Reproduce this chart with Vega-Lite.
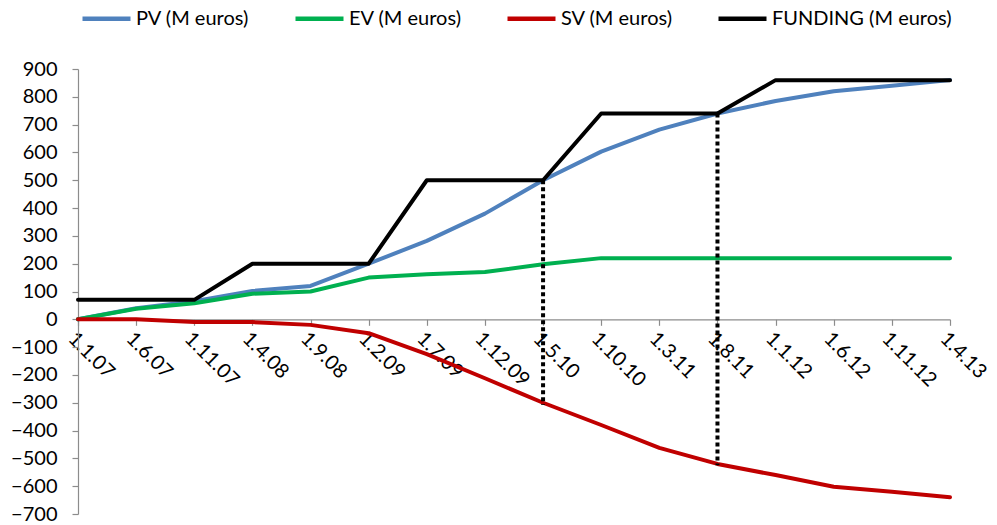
{
  "$schema": "https://vega.github.io/schema/vega-lite/v6.json",
  "autosize": {"type": "none"},
  "padding": {"left": 78, "top": 69, "right": 47, "bottom": 11},
  "width": 872,
  "height": 445,
  "background": "white",
  "config": {
    "view": {"stroke": null},
    "font": "Lato",
    "axis": {"labelFont": "Lato", "labelFontSize": 20, "labelColor": "#000000", "grid": false, "domainColor": "#8c8c8c", "tickColor": "#8c8c8c", "domainWidth": 1.2, "tickWidth": 1.2, "title": null, "labelOverlap": false}
  },
  "datasets": {
    "series": [
      {"date": "1.1.07", "series": "PV (M euros)", "value": 0},
      {"date": "1.6.07", "series": "PV (M euros)", "value": 40},
      {"date": "1.11.07", "series": "PV (M euros)", "value": 65},
      {"date": "1.4.08", "series": "PV (M euros)", "value": 102},
      {"date": "1.9.08", "series": "PV (M euros)", "value": 120},
      {"date": "1.2.09", "series": "PV (M euros)", "value": 200},
      {"date": "1.7.09", "series": "PV (M euros)", "value": 282},
      {"date": "1.12.09", "series": "PV (M euros)", "value": 380},
      {"date": "1.5.10", "series": "PV (M euros)", "value": 500},
      {"date": "1.10.10", "series": "PV (M euros)", "value": 603},
      {"date": "1.3.11", "series": "PV (M euros)", "value": 682},
      {"date": "1.8.11", "series": "PV (M euros)", "value": 740},
      {"date": "1.1.12", "series": "PV (M euros)", "value": 785},
      {"date": "1.6.12", "series": "PV (M euros)", "value": 820},
      {"date": "1.11.12", "series": "PV (M euros)", "value": 840},
      {"date": "1.4.13", "series": "PV (M euros)", "value": 860},
      {"date": "1.1.07", "series": "EV (M euros)", "value": 0},
      {"date": "1.6.07", "series": "EV (M euros)", "value": 38},
      {"date": "1.11.07", "series": "EV (M euros)", "value": 58},
      {"date": "1.4.08", "series": "EV (M euros)", "value": 92},
      {"date": "1.9.08", "series": "EV (M euros)", "value": 100},
      {"date": "1.2.09", "series": "EV (M euros)", "value": 150},
      {"date": "1.7.09", "series": "EV (M euros)", "value": 162},
      {"date": "1.12.09", "series": "EV (M euros)", "value": 170},
      {"date": "1.5.10", "series": "EV (M euros)", "value": 198},
      {"date": "1.10.10", "series": "EV (M euros)", "value": 220},
      {"date": "1.3.11", "series": "EV (M euros)", "value": 220},
      {"date": "1.8.11", "series": "EV (M euros)", "value": 220},
      {"date": "1.1.12", "series": "EV (M euros)", "value": 220},
      {"date": "1.6.12", "series": "EV (M euros)", "value": 220},
      {"date": "1.11.12", "series": "EV (M euros)", "value": 220},
      {"date": "1.4.13", "series": "EV (M euros)", "value": 220},
      {"date": "1.1.07", "series": "SV (M euros)", "value": 0},
      {"date": "1.6.07", "series": "SV (M euros)", "value": 0},
      {"date": "1.11.07", "series": "SV (M euros)", "value": -10},
      {"date": "1.4.08", "series": "SV (M euros)", "value": -10},
      {"date": "1.9.08", "series": "SV (M euros)", "value": -20},
      {"date": "1.2.09", "series": "SV (M euros)", "value": -50},
      {"date": "1.7.09", "series": "SV (M euros)", "value": -125},
      {"date": "1.12.09", "series": "SV (M euros)", "value": -212},
      {"date": "1.5.10", "series": "SV (M euros)", "value": -300},
      {"date": "1.10.10", "series": "SV (M euros)", "value": -380},
      {"date": "1.3.11", "series": "SV (M euros)", "value": -462},
      {"date": "1.8.11", "series": "SV (M euros)", "value": -520},
      {"date": "1.1.12", "series": "SV (M euros)", "value": -560},
      {"date": "1.6.12", "series": "SV (M euros)", "value": -602},
      {"date": "1.11.12", "series": "SV (M euros)", "value": -620},
      {"date": "1.4.13", "series": "SV (M euros)", "value": -640},
      {"date": "1.1.07", "series": "FUNDING (M euros)", "value": 70},
      {"date": "1.6.07", "series": "FUNDING (M euros)", "value": 70},
      {"date": "1.11.07", "series": "FUNDING (M euros)", "value": 70},
      {"date": "1.4.08", "series": "FUNDING (M euros)", "value": 200},
      {"date": "1.9.08", "series": "FUNDING (M euros)", "value": 200},
      {"date": "1.2.09", "series": "FUNDING (M euros)", "value": 200},
      {"date": "1.7.09", "series": "FUNDING (M euros)", "value": 500},
      {"date": "1.12.09", "series": "FUNDING (M euros)", "value": 500},
      {"date": "1.5.10", "series": "FUNDING (M euros)", "value": 500},
      {"date": "1.10.10", "series": "FUNDING (M euros)", "value": 740},
      {"date": "1.3.11", "series": "FUNDING (M euros)", "value": 740},
      {"date": "1.8.11", "series": "FUNDING (M euros)", "value": 740},
      {"date": "1.1.12", "series": "FUNDING (M euros)", "value": 860},
      {"date": "1.6.12", "series": "FUNDING (M euros)", "value": 860},
      {"date": "1.11.12", "series": "FUNDING (M euros)", "value": 860},
      {"date": "1.4.13", "series": "FUNDING (M euros)", "value": 860}
    ],
    "markers": [
      {"date": "1.5.10", "top": 500, "bottom": -308},
      {"date": "1.8.11", "top": 740, "bottom": -525}
    ]
  },
  "layer": [
    {
      "data": {"name": "series"},
      "mark": {"type": "line", "strokeWidth": 4, "strokeCap": "round", "strokeJoin": "round"},
      "encoding": {
        "x": {
          "field": "date", "type": "ordinal",
          "scale": {"type": "point", "padding": 0, "domain": ["1.1.07", "1.6.07", "1.11.07", "1.4.08", "1.9.08", "1.2.09", "1.7.09", "1.12.09", "1.5.10", "1.10.10", "1.3.11", "1.8.11", "1.1.12", "1.6.12", "1.11.12", "1.4.13"]},
          "axis": {"orient": "bottom", "offset": -194.7, "tickSize": 6, "labelAngle": 45, "labelAlign": "left", "labelBaseline": "top", "labelPadding": 3, "labelOverlap": false, "labelFontSize": 20, "labelBound": false}
        },
        "y": {
          "field": "value", "type": "quantitative",
          "scale": {"domain": [-700, 900], "nice": false, "zero": false},
          "axis": {"values": [-700, -600, -500, -400, -300, -200, -100, 0, 100, 200, 300, 400, 500, 600, 700, 800, 900], "tickCount": 17, "tickSize": 6, "labelPadding": 15, "labelOverlap": false}
        },
        "color": {
          "field": "series", "type": "nominal",
          "scale": {"domain": ["PV (M euros)", "EV (M euros)", "SV (M euros)", "FUNDING (M euros)"], "range": ["#4F81BD", "#00B050", "#C00000", "#000000"]},
          "legend": {"orient": "none", "legendX": 2, "legendY": -77, "direction": "horizontal", "title": null, "symbolType": "stroke", "symbolSize": 2304, "symbolStrokeWidth": 4.5, "labelFont": "Lato", "labelFontSize": 20, "labelColor": "#000000", "labelOffset": 3, "columnPadding": 36, "labelLimit": 400}
        }
      }
    },
    {
      "data": {"name": "markers"},
      "mark": {"type": "rule", "color": "#000000", "strokeWidth": 4, "strokeDash": [4, 3]},
      "encoding": {
        "x": {"field": "date", "type": "ordinal"},
        "y": {"field": "top", "type": "quantitative"},
        "y2": {"field": "bottom"}
      }
    }
  ]
}
